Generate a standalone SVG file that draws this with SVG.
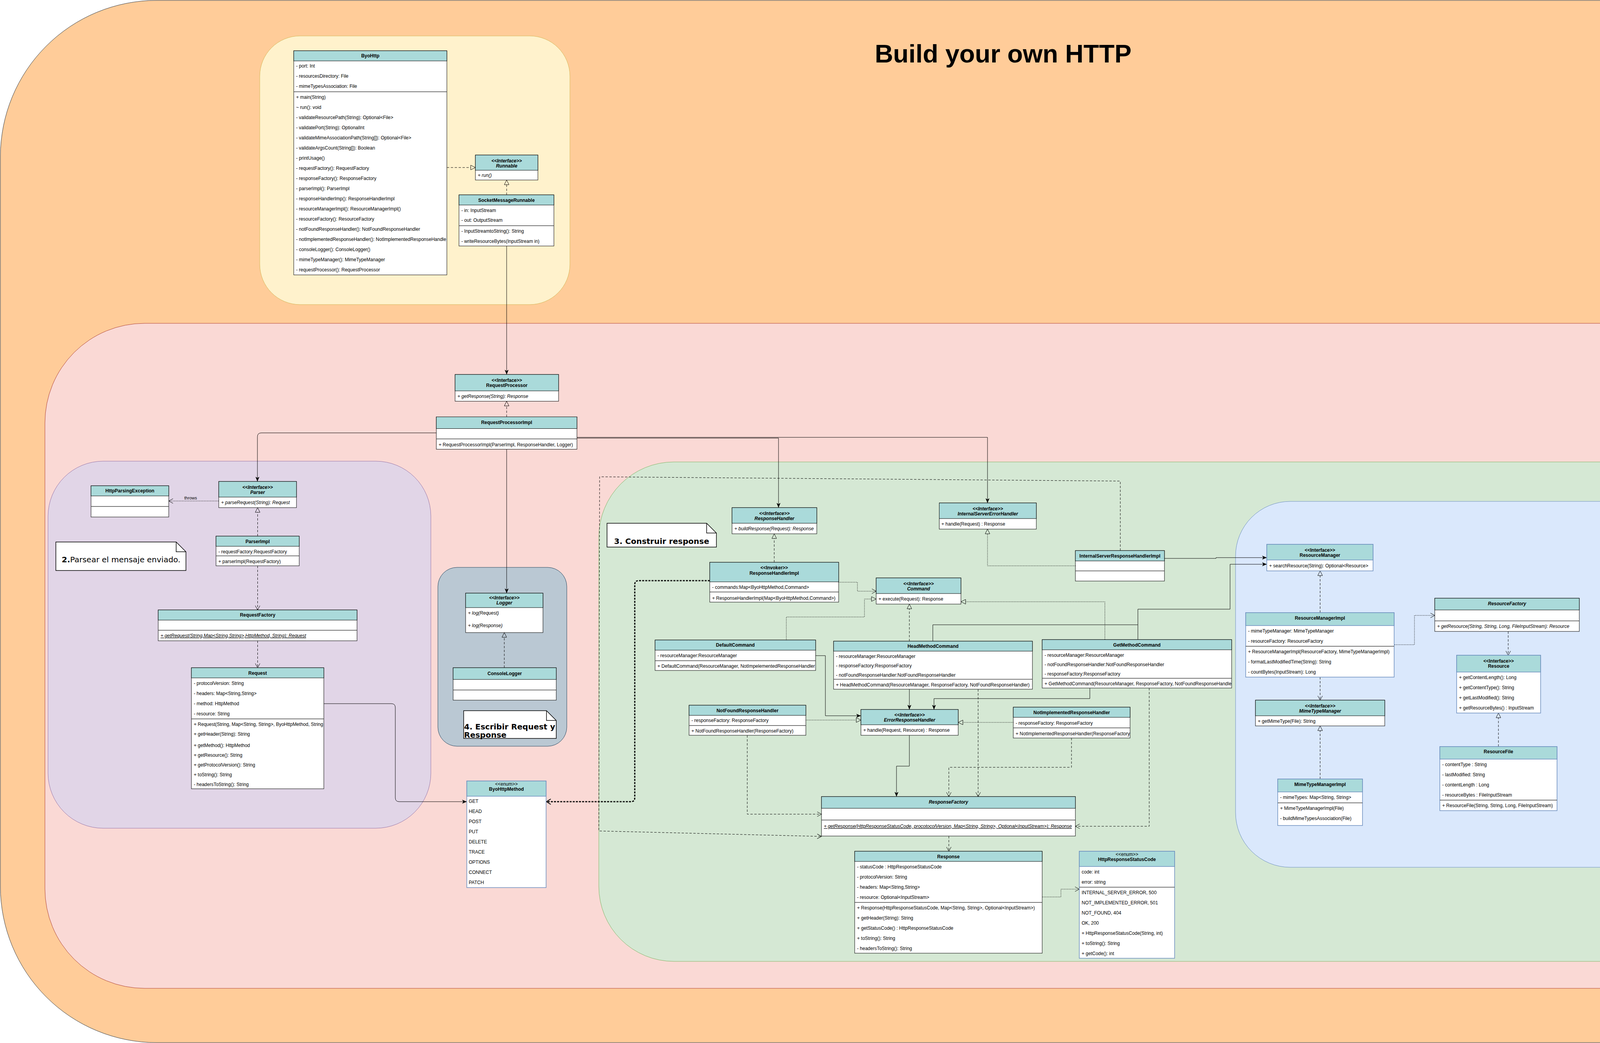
<svg xmlns="http://www.w3.org/2000/svg" width="4494" height="2671" viewBox="0 0 4494 2671">
<style>
text{font-family:"Liberation Sans",Arial,Helvetica,sans-serif;font-size:12px;fill:#000}
.b{font-weight:bold}.i{font-style:italic}.u{text-decoration:underline}.c{text-anchor:middle}
.bx{fill:#fff;stroke:#000;stroke-width:1}.hd{fill:#aadada;stroke:#000;stroke-width:1}
.bb{fill:#fff;stroke:#6c8ebf;stroke-width:1.5}.hb{fill:#aadada;stroke:#6c8ebf;stroke-width:1.5}
.sp{stroke:#444;stroke-width:1.5}
.nt{font-family:"DejaVu Sans",Verdana,sans-serif;font-size:20px}
.note{fill:#fff;stroke:#000;stroke-width:1.5}
.e{fill:none;stroke:#000;stroke-width:1}
.d{stroke-dasharray:6 4}.dt{stroke-dasharray:2 2}
.thick{stroke-width:3;stroke-dasharray:5 3}
</style>
<defs>
<marker id="fa" viewBox="0 0 12 10" refX="12" refY="5" markerWidth="12" markerHeight="10" orient="auto" markerUnits="userSpaceOnUse"><path d="M0,0 L12,5 L0,10 L3,5 z" fill="#000"/></marker>
<marker id="oa" viewBox="-1 -1 14 14" refX="11" refY="6" markerWidth="14" markerHeight="14" orient="auto" markerUnits="userSpaceOnUse"><path d="M0,0 L11,6 L0,12" fill="none" stroke="#000" stroke-width="1"/></marker>
<marker id="oab" viewBox="-2 -2 16 18" refX="11" refY="7" markerWidth="16" markerHeight="18" orient="auto" markerUnits="userSpaceOnUse"><path d="M0,0 L11,7 L0,14" fill="none" stroke="#000" stroke-width="2"/></marker>
<marker id="tri" viewBox="-1 -1 14 14" refX="0" refY="6" markerWidth="14" markerHeight="14" orient="auto" markerUnits="userSpaceOnUse"><path d="M0,0 L12,6 L0,12 z" fill="none" stroke="#000" stroke-width="1"/></marker>
</defs>

<g id="regions">
<rect x="1" y="1" width="4492" height="2669" rx="400" fill="#ffcc99" stroke="#36393d"/>
<rect x="665" y="92" width="794" height="688" rx="103" fill="#fff2cc" stroke="#d6b656"/>
<rect x="115" y="828" width="4327" height="1703" rx="255" fill="#fad9d5" stroke="#ae4132"/>
<rect x="123" y="1181" width="980" height="940" rx="141" fill="#e1d5e7" stroke="#9673a6"/>
<rect x="1121" y="1453" width="330" height="458" rx="49" fill="#bac8d3" stroke="#23445d"/>
<rect x="1533" y="1183" width="2852" height="1279" rx="192" fill="#d5e8d4" stroke="#82b366"/>
<rect x="3163" y="1284" width="1084" height="937" rx="140" fill="#dae8fc" stroke="#6c8ebf"/>
</g>

<text id="title" x="2568" y="160" class="b c" style="font-size:65px">Build your own HTTP</text>

<g id="connectors">
<path class="e d" d="M1144,429 H1205" marker-end="url(#tri)"/>
<path class="e d" d="M1297,499 V473" marker-end="url(#tri)"/>
<path class="e" d="M1297,630 V959" marker-end="url(#fa)"/>
<path class="e d" d="M1297,1067.5 V1039.5" marker-end="url(#tri)"/>
<path class="e" d="M1117,1108.6 H669 Q659,1108.6 659,1118.6 V1233" marker-end="url(#fa)"/>
<path class="e" d="M1477,1122 H1993 V1300" marker-end="url(#fa)"/>
<path class="e" d="M1477,1120 H2528 V1288" marker-end="url(#fa)"/>
<path class="e" d="M1297,1150.7 V1519" marker-end="url(#fa)"/>
<path class="e dt" d="M560,1283 H432" marker-end="url(#oa)"/>
<text x="488" y="1279" class="c" style="font-size:11px">throws</text>
<path class="e d" d="M659.5,1373 V1312" marker-end="url(#tri)"/>
<path class="e d" d="M659.5,1449 V1562" marker-end="url(#oa)"/>
<path class="e d" d="M659.5,1641 V1710" marker-end="url(#oa)"/>
<path class="e" d="M829,1802 H1002 Q1012,1802 1012,1812 V2043 Q1012,2053 1022,2053 H1195" marker-end="url(#fa)"/>
<path class="e d" d="M1291,1710 V1632" marker-end="url(#tri)"/>
<path class="e thick" d="M1817,1487 H1635 Q1625,1487 1625,1497 V2043 Q1625,2053 1615,2053 H1399" marker-end="url(#oab)"/>
<path class="e d" d="M1982,1440 V1379" marker-end="url(#tri)"/>
<path class="e dt" d="M2147,1491 H2195 V1514 H2243" marker-end="url(#oa)"/>
<path class="e dt" d="M2013,1639 V1580 H2213 V1534 H2231" marker-end="url(#tri)"/>
<path class="e d" d="M2328,1642 V1559" marker-end="url(#tri)"/>
<path class="e dt" d="M2828.5,1638 V1541 H2472" marker-end="url(#tri)"/>
<path class="e" d="M2913,1638 V1560 H3149 V1445 H3243" marker-end="url(#fa)"/>
<path class="e" d="M2388,1642 V1600 H2913"/>
<path class="e" d="M2981,1430 H3113 V1428 H3243" marker-end="url(#fa)"/>
<path class="e dt" d="M2753,1449 H2528 V1367" marker-end="url(#tri)"/>
<path class="e d" d="M2868,1410 V1232 L1535,1221 L1533,2128 L2103,2142" marker-end="url(#oa)"/>
<path class="e" d="M2088,1679 H2113 V1833 H2204" marker-end="url(#fa)"/>
<path class="e" d="M2328,1765 V1817" marker-end="url(#fa)"/>
<path class="e" d="M2790,1762 V1789 H2391 V1817" marker-end="url(#fa)"/>
<path class="e dt" d="M2063,1844 H2192" marker-end="url(#tri)"/>
<path class="e dt" d="M2594,1850 H2465" marker-end="url(#tri)"/>
<path class="e d" d="M1913,1883 V2085 H2103" marker-end="url(#oa)"/>
<path class="e" d="M2328,1883 V1962 H2295 V2040" marker-end="url(#fa)"/>
<path class="e d" d="M2743,1890 V1965 H2429 V2040" marker-end="url(#oa)"/>
<path class="e d" d="M2504,1765 V2040" marker-end="url(#oa)"/>
<path class="e d" d="M2942,1762 V2116 H2753" marker-end="url(#oa)"/>
<path class="e d" d="M2429,2141 V2180" marker-end="url(#oa)"/>
<path class="e dt" d="M2668,2297 H2716 V2277 H2763" marker-end="url(#oa)"/>
<path class="e d" d="M3379.5,1569 V1474" marker-end="url(#tri)"/>
<path class="e dt" d="M3570,1651 H3621 V1576 H3673" marker-end="url(#oa)"/>
<path class="e d" d="M3379.5,1734 V1793" marker-end="url(#oa)"/>
<path class="e d" d="M3379.5,1995 V1871" marker-end="url(#tri)"/>
<path class="e d" d="M3861,1617 V1678" marker-end="url(#oa)"/>
<path class="e d" d="M3836,1912 V1838" marker-end="url(#tri)"/>
</g>

<g id="n-byohttp">
<rect class="bx" x="752" y="130" width="392" height="574"/>
<rect class="hd" x="752" y="130" width="392" height="26"/>
<text x="948" y="147" class="b c">ByoHttp</text>
<text x="758" y="173">- port: Int</text>
<text x="758" y="199">- resourcesDirectory: File</text>
<text x="758" y="225">- mimeTypesAssociation: File</text>
<line class="sp" x1="752" y1="235" x2="1144" y2="235"/>
<text x="758" y="253">+ main(String)</text>
<text x="758" y="279">~ run(): void</text>
<text x="758" y="305">- validateResourcePath(String): Optional&lt;File&gt;</text>
<text x="758" y="331">- validatePort(String): OptionalInt</text>
<text x="758" y="357">- validateMimeAssociationPath(String[]): Optional&lt;File&gt;</text>
<text x="758" y="383">- validateArgsCount(String[]): Boolean</text>
<text x="758" y="409">- printUsage()</text>
<text x="758" y="435">- requestFactory(): RequestFactory</text>
<text x="758" y="461">- responseFactory(): ResponseFactory</text>
<text x="758" y="487">- parserImpl(): ParserImpl</text>
<text x="758" y="513">- responseHandlerImp(): ResponseHandlerImpl</text>
<text x="758" y="539">- resourceManagerImpl(): ResourceManagerImpl()</text>
<text x="758" y="565">- resourceFactory(): ResourceFactory</text>
<text x="758" y="591">- notFoundResponseHandler(): NotFoundResponseHandler</text>
<text x="758" y="617">- notImplementedResponseHandler(): NotImplementedResponseHandle</text>
<text x="758" y="643">- consoleLogger(): ConsoleLogger()</text>
<text x="758" y="669">- mimeTypeManager(): MimeTypeManager</text>
<text x="758" y="695">- requestProcessor(): RequestProcessor</text>
</g>

<g id="n-runnable">
<rect class="bx" x="1217" y="397" width="160" height="64"/>
<rect class="hd" x="1217" y="397" width="160" height="39"/>
<text x="1297" y="416" class="b i c">&lt;&lt;Interface&gt;&gt;</text>
<text x="1297" y="429" class="b i c">Runnable</text>
<text x="1223" y="453" class="i">+ run()</text>
</g>

<g id="n-socketmessagerunnable">
<rect class="bx" x="1175" y="499" width="243" height="131"/>
<rect class="hd" x="1175" y="499" width="243" height="26"/>
<text x="1296.5" y="517" class="b c">SocketMessageRunnable</text>
<text x="1181" y="543">- in: InputStream</text>
<text x="1181" y="568">- out: OutputStream</text>
<line class="sp" x1="1175" y1="578" x2="1418" y2="578"/>
<text x="1181" y="596">- InputStreamtoString(): String</text>
<text x="1181" y="622">- writeResourceBytes(InputStream in)</text>
</g>

<g id="n-requestprocessor">
<rect class="bx" x="1165" y="959" width="265" height="68.5"/>
<rect class="hd" x="1165" y="959" width="265" height="42"/>
<text x="1297.5" y="978" class="b c">&lt;&lt;Interface&gt;&gt;</text>
<text x="1297.5" y="991" class="b c">RequestProcessor</text>
<text x="1171" y="1019" class="i">+ getResponse(String): Response</text>
</g>

<g id="n-requestprocessorimpl">
<rect class="bx" x="1117" y="1067.5" width="360" height="83"/>
<rect class="hd" x="1117" y="1067.5" width="360" height="30"/>
<text x="1297" y="1086" class="b c">RequestProcessorImpl</text>
<line class="sp" x1="1117" y1="1124" x2="1477" y2="1124"/>
<text x="1123" y="1143">+ RequestProcessorImpl(ParserImpl, ResponseHandler, Logger)</text>
</g>

<g id="n-parser">
<rect class="bx" x="560" y="1233" width="199" height="67"/>
<rect class="hd" x="560" y="1233" width="199" height="40"/>
<text x="659.5" y="1251.5" class="b i c">&lt;&lt;Interface&gt;&gt;</text>
<text x="659.5" y="1265" class="b i c">Parser</text>
<text x="566" y="1291" class="i">+ parseRequest(String): Request</text>
</g>

<g id="n-httpparsingexception">
<rect class="bx" x="233" y="1244" width="199" height="80"/>
<rect class="hd" x="233" y="1244" width="199" height="26"/>
<text x="332.5" y="1261" class="b c">HttpParsingException</text>
<line class="sp" x1="233" y1="1297" x2="432" y2="1297"/>
</g>

<g id="n-parserimpl">
<rect class="bx" x="553" y="1373" width="213" height="76"/>
<rect class="hd" x="553" y="1373" width="213" height="26"/>
<text x="659.5" y="1391" class="b c">ParserImpl</text>
<text x="559" y="1417">- requestFactory:RequestFactory</text>
<line class="sp" x1="553" y1="1423.5" x2="766" y2="1423.5"/>
<text x="559" y="1442">+ parserImpl(RequestFactory)</text>
</g>

<g id="n-requestfactory">
<rect class="bx" x="405" y="1562" width="509" height="79"/>
<rect class="hd" x="405" y="1562" width="509" height="26"/>
<text x="659.5" y="1579" class="b c">RequestFactory</text>
<line class="sp" x1="405" y1="1614" x2="914" y2="1614"/>
<text x="411" y="1632" class="i u">+ getRequest(String,Map&lt;String,String&gt;,HttpMethod, String): Request</text>
</g>

<g id="n-request">
<rect class="bx" x="490" y="1710" width="339" height="310"/>
<rect class="hd" x="490" y="1710" width="339" height="26"/>
<text x="659.5" y="1728" class="b c">Request</text>
<text x="496" y="1754">- protocolVersion: String</text>
<text x="496" y="1780">- headers: Map&lt;String,String&gt;</text>
<text x="496" y="1806">- method: HttpMethod</text>
<text x="496" y="1832">- resource: String</text>
<line class="sp" x1="490" y1="1841" x2="829" y2="1841"/>
<text x="496" y="1859">+ Request(String, Map&lt;String, String&gt;, ByoHttpMethod, String</text>
<text x="496" y="1884">+ getHeader(String): String</text>
<text x="496" y="1913">+ getMethod():  HttpMethod</text>
<text x="496" y="1938">+ getResource():  String</text>
<text x="496" y="1963">+ getProtocolVersion(): String</text>
<text x="496" y="1988">+ toString(): String</text>
<text x="496" y="2013">- headersToString(): String</text>
</g>

<g id="n-logger">
<rect class="bx" x="1192" y="1519" width="198" height="101"/>
<rect class="hd" x="1192" y="1519" width="198" height="37"/>
<text x="1291" y="1535" class="b i c">&lt;&lt;Interface&gt;&gt;</text>
<text x="1291" y="1548" class="b i c">Logger</text>
<text x="1198" y="1574" class="i">+ log(Request)</text>
<text x="1198" y="1606" class="i">+ log(Response)</text>
</g>

<g id="n-consolelogger">
<rect class="bx" x="1160" y="1710" width="264" height="83"/>
<rect class="hd" x="1160" y="1710" width="264" height="30"/>
<text x="1292" y="1729" class="b c">ConsoleLogger</text>
<line class="sp" x1="1160" y1="1767" x2="1424" y2="1767"/>
</g>

<g id="n-byohttpmethod">
<rect class="bb" x="1195" y="2000" width="203" height="273"/>
<rect class="hb" x="1195" y="2000" width="203" height="39"/>
<text x="1296.5" y="2012" class="c">&lt;&lt;enum&gt;&gt;</text>
<text x="1296.5" y="2025" class="b c">ByoHttpMethod</text>
<text x="1200" y="2056">GET</text>
<text x="1200" y="2082">HEAD</text>
<text x="1200" y="2108">POST</text>
<text x="1200" y="2134">PUT</text>
<text x="1200" y="2160">DELETE</text>
<text x="1200" y="2186">TRACE</text>
<text x="1200" y="2212">OPTIONS</text>
<text x="1200" y="2238">CONNECT</text>
<text x="1200" y="2264">PATCH</text>
</g>

<g id="n-responsehandler">
<rect class="bx" x="1874" y="1300" width="217" height="67"/>
<rect class="hd" x="1874" y="1300" width="217" height="40"/>
<text x="1982.5" y="1318.5" class="b i c">&lt;&lt;Interface&gt;&gt;</text>
<text x="1982.5" y="1331.5" class="b i c">ResponseHandler</text>
<text x="1880" y="1358" class="i">+ buildResponse(Request): Response</text>
</g>

<g id="n-internalservererrorhandler">
<rect class="bx" x="2404.5" y="1288" width="248.5" height="67"/>
<rect class="hd" x="2404.5" y="1288" width="248.5" height="40"/>
<text x="2528.75" y="1307" class="b i c">&lt;&lt;Interface&gt;&gt;</text>
<text x="2528.75" y="1320" class="b i c">InternalServerErrorHandler</text>
<text x="2410" y="1346">+ handle(Request) : Response</text>
</g>

<g id="n-responsehandlerimpl">
<rect class="bx" x="1817" y="1440" width="330" height="102"/>
<rect class="hd" x="1817" y="1440" width="330" height="50"/>
<text x="1982" y="1458" class="b c">&lt;&lt;Invoker&gt;&gt;</text>
<text x="1982" y="1472" class="b c">ResponseHandlerImpl</text>
<text x="1823" y="1508">- commands:Map&lt;ByoHttpMethod,Command&gt;</text>
<line class="sp" x1="1817" y1="1516" x2="2147" y2="1516"/>
<text x="1823" y="1536">+ ResponseHandlerImpl(Map&lt;ByoHttpMethod,Command&gt;)</text>
</g>

<g id="n-command">
<rect class="bx" x="2243" y="1480" width="217" height="67"/>
<rect class="hd" x="2243" y="1480" width="217" height="40"/>
<text x="2351.5" y="1499" class="b i c">&lt;&lt;Interface&gt;&gt;</text>
<text x="2351.5" y="1512" class="b i c">Command</text>
<text x="2249" y="1538">+ execute(Request): Response</text>
</g>

<g id="n-internalserverresponsehandlerimpl">
<rect class="bx" x="2753" y="1410" width="228" height="78"/>
<rect class="hd" x="2753" y="1410" width="228" height="26.5"/>
<text x="2867" y="1428" class="b c">InternalServerResponseHandlerImpl</text>
<line class="sp" x1="2753" y1="1462" x2="2981" y2="1462"/>
</g>

<g id="n-defaultcommand">
<rect class="bx" x="1677" y="1639" width="411" height="78"/>
<rect class="hd" x="1677" y="1639" width="411" height="26"/>
<text x="1882.5" y="1656" class="b c">DefaultCommand</text>
<text x="1683" y="1683">- resourceManager:ResourceManager</text>
<line class="sp" x1="1677" y1="1692" x2="2088" y2="1692"/>
<text x="1683" y="1710">+ DefaultCommand(ResourceManager, NotImpelementedResponseHandler</text>
</g>

<g id="n-headmethodcommand">
<rect class="bx" x="2134" y="1642" width="509" height="123"/>
<rect class="hd" x="2134" y="1642" width="509" height="25.5"/>
<text x="2388.5" y="1659" class="b c">HeadMethodCommand</text>
<text x="2140" y="1685">- resourceManager:ResourceManager</text>
<text x="2140" y="1709">- responseFactory:ResponseFactory</text>
<text x="2140" y="1733">- notFoundResponseHandler:NotFoundResponseHandler</text>
<line class="sp" x1="2134" y1="1739.5" x2="2643" y2="1739.5"/>
<text x="2140" y="1758">+ HeadMethodCommand(ResourceManager, ResponseFactory, NotFoundResponseHandler)</text>
</g>

<g id="n-getmethodcommand">
<rect class="bx" x="2668" y="1638" width="485" height="124"/>
<rect class="hd" x="2668" y="1638" width="485" height="26"/>
<text x="2910.5" y="1656" class="b c">GetMethodCommand</text>
<text x="2674" y="1682">- resourceManager:ResourceManager</text>
<text x="2674" y="1706">- notFoundResponseHandler:NotFoundResponseHandler</text>
<text x="2674" y="1730">- responseFactory:ResponseFactory</text>
<line class="sp" x1="2668" y1="1737" x2="3153" y2="1737"/>
<text x="2674" y="1755">+ GetMethodCommand(ResourceManager, ResponseFactory, NotFoundResponseHandle</text>
</g>

<g id="n-notfoundresponsehandler">
<rect class="bx" x="1764" y="1806" width="299" height="77"/>
<rect class="hd" x="1764" y="1806" width="299" height="26"/>
<text x="1913.5" y="1823.5" class="b c">NotFoundResponseHandler</text>
<text x="1770" y="1849">- responseFactory: ResponseFactory</text>
<line class="sp" x1="1764" y1="1858" x2="2063" y2="1858"/>
<text x="1770" y="1876">+ NotFoundResponseHandler(ResponseFactory)</text>
</g>

<g id="n-errorresponsehandler">
<rect class="bx" x="2204" y="1817" width="249" height="66"/>
<rect class="hd" x="2204" y="1817" width="249" height="39"/>
<text x="2328.5" y="1835" class="b i c">&lt;&lt;Interface&gt;&gt;</text>
<text x="2328.5" y="1848" class="b i c">ErrorResponseHandler</text>
<text x="2210" y="1874">+ handle(Request, Resource) : Response</text>
</g>

<g id="n-notimplementedresponsehandler">
<rect class="bx" x="2594" y="1811" width="299" height="79"/>
<rect class="hd" x="2594" y="1811" width="299" height="26"/>
<text x="2743.5" y="1829" class="b c">NotImplementedResponseHandler</text>
<text x="2600" y="1856">- responseFactory: ResponseFactory</text>
<line class="sp" x1="2594" y1="1864" x2="2893" y2="1864"/>
<text x="2600" y="1883">+ NotImplementedResponseHandler(ResponseFactory</text>
</g>

<g id="n-responsefactory">
<rect class="bx" x="2103" y="2040" width="650" height="101"/>
<rect class="hd" x="2103" y="2040" width="650" height="30"/>
<text x="2428" y="2057.5" class="b i c">ResponseFactory</text>
<line class="sp" x1="2103" y1="2100" x2="2753" y2="2100"/>
<text x="2109" y="2120" class="i u">+ getResponse(HttpResponseStatusCode, procotocolVersion,  Map&lt;String, String&gt;,  Optional&lt;InputStream&gt;): Response</text>
</g>

<g id="n-response">
<rect class="bx" x="2188" y="2180" width="480" height="261"/>
<rect class="hd" x="2188" y="2180" width="480" height="26"/>
<text x="2428" y="2198" class="b c">Response</text>
<text x="2194" y="2224">- statusCode : HttpResponseStatusCode</text>
<text x="2194" y="2250">- protocolVersion: String</text>
<text x="2194" y="2276">- headers: Map&lt;String,String&gt;</text>
<text x="2194" y="2302">- resource: Optional&lt;InputStream&gt;</text>
<line class="sp" x1="2188" y1="2311" x2="2668" y2="2311"/>
<text x="2194" y="2329">+ Response(HttpResponseStatusCode, Map&lt;String, String&gt;, Optional&lt;InputStream&gt;)</text>
<text x="2194" y="2355">+ getHeader(String): String</text>
<text x="2194" y="2381">+ getStatusCode() : HttpResponseStatusCode</text>
<text x="2194" y="2407">+ toString(): String</text>
<text x="2194" y="2433">- headersToString(): String</text>
</g>

<g id="n-httpresponsestatuscode">
<rect class="bb" x="2763" y="2180" width="244" height="274"/>
<rect class="hb" x="2763" y="2180" width="244" height="39"/>
<text x="2885" y="2191.5" class="c">&lt;&lt;enum&gt;&gt;</text>
<text x="2885" y="2205" class="b c">HttpResponseStatusCode</text>
<text x="2769" y="2237">code: int</text>
<text x="2769" y="2263">error: string</text>
<line class="sp" x1="2763" y1="2272" x2="3007" y2="2272"/>
<text x="2769" y="2290">INTERNAL_SERVER_ERROR, 500</text>
<text x="2769" y="2316">NOT_IMPLEMENTED_ERROR, 501</text>
<text x="2769" y="2342">NOT_FOUND, 404</text>
<text x="2769" y="2368">OK, 200</text>
<text x="2769" y="2394">+ HttpResponseStatusCode(String, int)</text>
<text x="2769" y="2420">+ toString(): String</text>
<text x="2769" y="2446">+ getCode(): int</text>
</g>

<g id="n-resourcemanager">
<rect class="bb" x="3243" y="1394" width="272" height="68"/>
<rect class="hb" x="3243" y="1394" width="272" height="40"/>
<text x="3379" y="1412.5" class="b c">&lt;&lt;Interface&gt;&gt;</text>
<text x="3379" y="1426" class="b c">ResourceManager</text>
<text x="3249" y="1453">+ searchResource(String): Optional&lt;Resource&gt;</text>
</g>

<g id="n-resourcemanagerimpl">
<rect class="bb" x="3189" y="1569" width="380" height="165"/>
<rect class="hb" x="3189" y="1569" width="380" height="33"/>
<text x="3379" y="1587" class="b c">ResourceManagerImpl</text>
<text x="3195" y="1620">- mimeTypeManager: MimeTypeManager</text>
<text x="3195" y="1646">- resourceFactory: ResourceFactory</text>
<line class="sp" x1="3189" y1="1655" x2="3569" y2="1655"/>
<text x="3195" y="1673">+ ResourceManagerImpl(ResourceFactory, MimeTypeManagerImpl)</text>
<text x="3195" y="1699">- formatLastModifiedTime(String): String</text>
<text x="3195" y="1725">- countBytes(InputStream): Long</text>
</g>

<g id="n-resourcefactory">
<rect class="bx" x="3673" y="1532" width="370" height="85"/>
<rect class="hd" x="3673" y="1532" width="370" height="30"/>
<text x="3858" y="1550" class="b i c">ResourceFactory</text>
<line class="sp" x1="3673" y1="1590" x2="4043" y2="1590"/>
<text x="3679" y="1608" class="i">+ getResource(String, String, Long, FileInputStream): Resource</text>
</g>

<g id="n-resource">
<rect class="bb" x="3729" y="1678" width="215" height="148"/>
<rect class="hb" x="3729" y="1678" width="215" height="43"/>
<text x="3836.5" y="1696.5" class="b c">&lt;&lt;Interface&gt;&gt;</text>
<text x="3836.5" y="1710" class="b c">Resource</text>
<text x="3735" y="1739">+ getContentLength(): Long</text>
<text x="3735" y="1765">+ getContentType(): String</text>
<text x="3735" y="1791">+ getLastModified(): String</text>
<text x="3735" y="1817">+ getResourceBytes() : InputStream</text>
</g>

<g id="n-mimetypemanager">
<rect class="bx" x="3214" y="1793" width="331" height="66"/>
<rect class="hd" x="3214" y="1793" width="331" height="40"/>
<text x="3379.5" y="1811.5" class="b i c">&lt;&lt;Interface&gt;&gt;</text>
<text x="3379.5" y="1825" class="b i c">MimeTypeManager</text>
<text x="3220" y="1851">+ getMimeType(File): String</text>
</g>

<g id="n-mimetypemanagerimpl">
<rect class="bb" x="3271" y="1995" width="217" height="119"/>
<rect class="hb" x="3271" y="1995" width="217" height="33"/>
<text x="3379.5" y="2013" class="b c">MimeTypeManagerImpl</text>
<text x="3277" y="2046">- mimeTypes: Map&lt;String, String&gt;</text>
<line class="sp" x1="3271" y1="2056" x2="3488" y2="2056"/>
<text x="3277" y="2074">+ MimeTypeManagerImpl(File)</text>
<text x="3277" y="2100">- buildMimeTypesAssociation(File)</text>
</g>

<g id="n-resourcefile">
<rect class="bb" x="3686" y="1912" width="300" height="164"/>
<rect class="hb" x="3686" y="1912" width="300" height="32"/>
<text x="3836" y="1929" class="b c">ResourceFile</text>
<text x="3692" y="1962">- contentType : String</text>
<text x="3692" y="1988">- lastModified: String</text>
<text x="3692" y="2014">- contentLength : Long</text>
<text x="3692" y="2040">- resourceBytes : FileInputStream</text>
<line class="sp" x1="3686" y1="2049" x2="3986" y2="2049"/>
<text x="3692" y="2067">+ ResourceFile(String, String, Long, FileInputStream)</text>
</g>

<g id="note-2">
<path class="note" d="M143,1388 H451 L476,1413 V1461 H143 Z"/>
<path class="e" style="stroke-width:1.5" d="M451,1388 V1413 H476"/>
<text x="158" y="1440" class="nt"><tspan font-weight="bold">2.</tspan>Parsear el mensaje enviado.</text>
</g>

<g id="note-3">
<path class="note" d="M1554,1340 H1809 L1834,1365 V1401 H1554 Z"/>
<path class="e" style="stroke-width:1.5" d="M1809,1340 V1365 H1834"/>
<text x="1572" y="1393" class="nt" font-weight="bold">3. Construir response</text>
</g>

<g id="note-4">
<path class="note" d="M1187,1820 H1399 L1424,1845 V1891 H1187 Z"/>
<path class="e" style="stroke-width:1.5" d="M1399,1820 V1845 H1424"/>
<text x="1188" y="1868" class="nt" font-weight="bold">4. Escribir Request y</text>
<text x="1188" y="1889" class="nt" font-weight="bold">Response</text>
</g>
</svg>
